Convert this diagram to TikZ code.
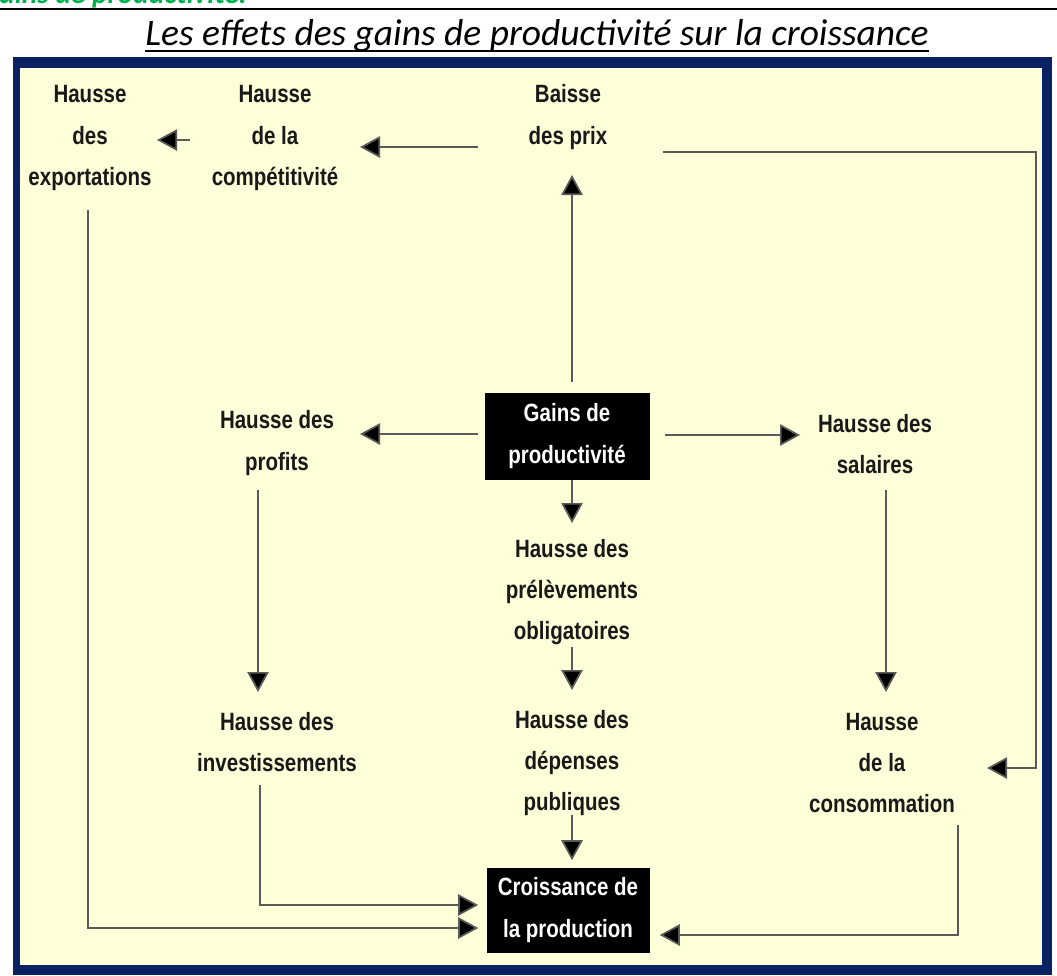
\documentclass[tikz,border=0pt]{standalone}
\usepackage{fontspec}
\setmainfont{Liberation Sans}
\newfontfamily\labfont[FakeStretch=0.82]{Liberation Sans}
\newfontfamily\titlefont{Carlito}
\usetikzlibrary{arrows.meta,calc}
\definecolor{cream}{RGB}{255,255,217}
\definecolor{frameblue}{RGB}{10,33,98}
\definecolor{wordgreen}{RGB}{0,176,80}
\definecolor{linegray}{RGB}{90,90,90}
\begin{document}
\begin{tikzpicture}[x=0.75pt,y=-0.75pt,
  lab/.style={font=\labfont\bfseries\fontsize{18.75pt}{31pt}\selectfont, text=black!90, align=center, inner sep=0pt},
  blk/.style={lab, fill=black, text=white},
  arr/.style={draw=linegray, line width=1.3pt, -{Triangle[length=15pt,width=16pt,fill=black]}},
  ln/.style={draw=linegray, line width=1.3pt}
]
\useasboundingbox (0,0) rectangle (1057,975);
\fill[frameblue] (13,57) rectangle (1052,975);
\fill[cream] (20,68) rectangle (1042,965);
\draw[line width=1.9pt] (0,9) -- (1057,9);
\node[anchor=base east, text=wordgreen, font=\titlefont\itshape\bfseries\fontsize{22pt}{26pt}\selectfont, inner sep=0pt] (sect) at (247,3) {gains de productivité.};
\node[anchor=base, font=\titlefont\itshape\fontsize{28.1pt}{33pt}\selectfont, inner sep=0pt] (title) at (537,45) {Les effets des gains de productivité sur la croissance};
\draw[line width=1.5pt] ($(title.base west)+(0,6)$) -- ($(title.base east)+(0,6)$);

\node[lab] (exports) at (90,138) {Hausse\\des\\exportations};
\node[lab] (compet) at (275,138) {Hausse\\de la\\compétitivité};
\node[lab] (baisse) at (568,117) {Baisse\\des prix};
\node[blk, minimum width=123.75pt, minimum height=65.25pt] (gains) at (567,436) {Gains de\\productivité};
\node[lab] (profits) at (277,443) {Hausse des\\profits};
\node[lab] (salaires) at (875,444) {Hausse des\\salaires};
\node[lab] (prelev) at (572,592) {Hausse des\\prélèvements\\obligatoires};
\node[lab] (depenses) at (572,763) {Hausse des\\dépenses\\publiques};
\node[lab] (invest) at (277,742) {Hausse des\\investissements};
\node[lab] (conso) at (882,763) {Hausse\\de la\\consommation};
\node[blk, minimum width=122.25pt, minimum height=63.75pt] (croissance) at (568,910) {Croissance de\\la production};

\coordinate (rc) at (1036,152);

\draw[arr] ($(baisse)+(-90,30)$) -- ($(compet)+(85,9)$);
\draw[arr] ($(compet)+(-85,2)$) -- ($(exports)+(67,2)$);
\draw[arr] ($(baisse)+(95,35)$) -- (rc) |- ($(conso)+(105,5)$);
\draw[arr] ($(gains.north)+(5,-10)$) -- ($(baisse)+(4,58)$);
\draw[arr] ($(gains.west)+(-6,-2)$) -- ($(profits)+(83,-9)$);
\draw[arr] ($(gains.east)+(15,-1)$) -- ($(salaires)+(-75,-9)$);
\draw[arr] ($(gains.south)+(5,0)$) -- ($(prelev)+(0,-69)$);
\draw[arr] ($(prelev)+(0,55)$) -- ($(depenses)+(0,-73)$);
\draw[arr] ($(depenses)+(0,52)$) -- ($(croissance.north)+(4,-7)$);
\draw[arr] ($(profits)+(-19,47)$) -- ($(invest)+(-19,-50)$);
\draw[arr] ($(salaires)+(11,46)$) -- ($(conso)+(4,-71)$);
\draw[arr] ($(invest)+(-17,43)$) |- ($(croissance.west)+(-8,-5)$);
\draw[arr] ($(exports)+(-2,72)$) |- ($(croissance.west)+(-8,18)$);
\draw[arr] ($(conso)+(76,62)$) |- ($(croissance.east)+(10,25)$);
\end{tikzpicture}
\end{document}
